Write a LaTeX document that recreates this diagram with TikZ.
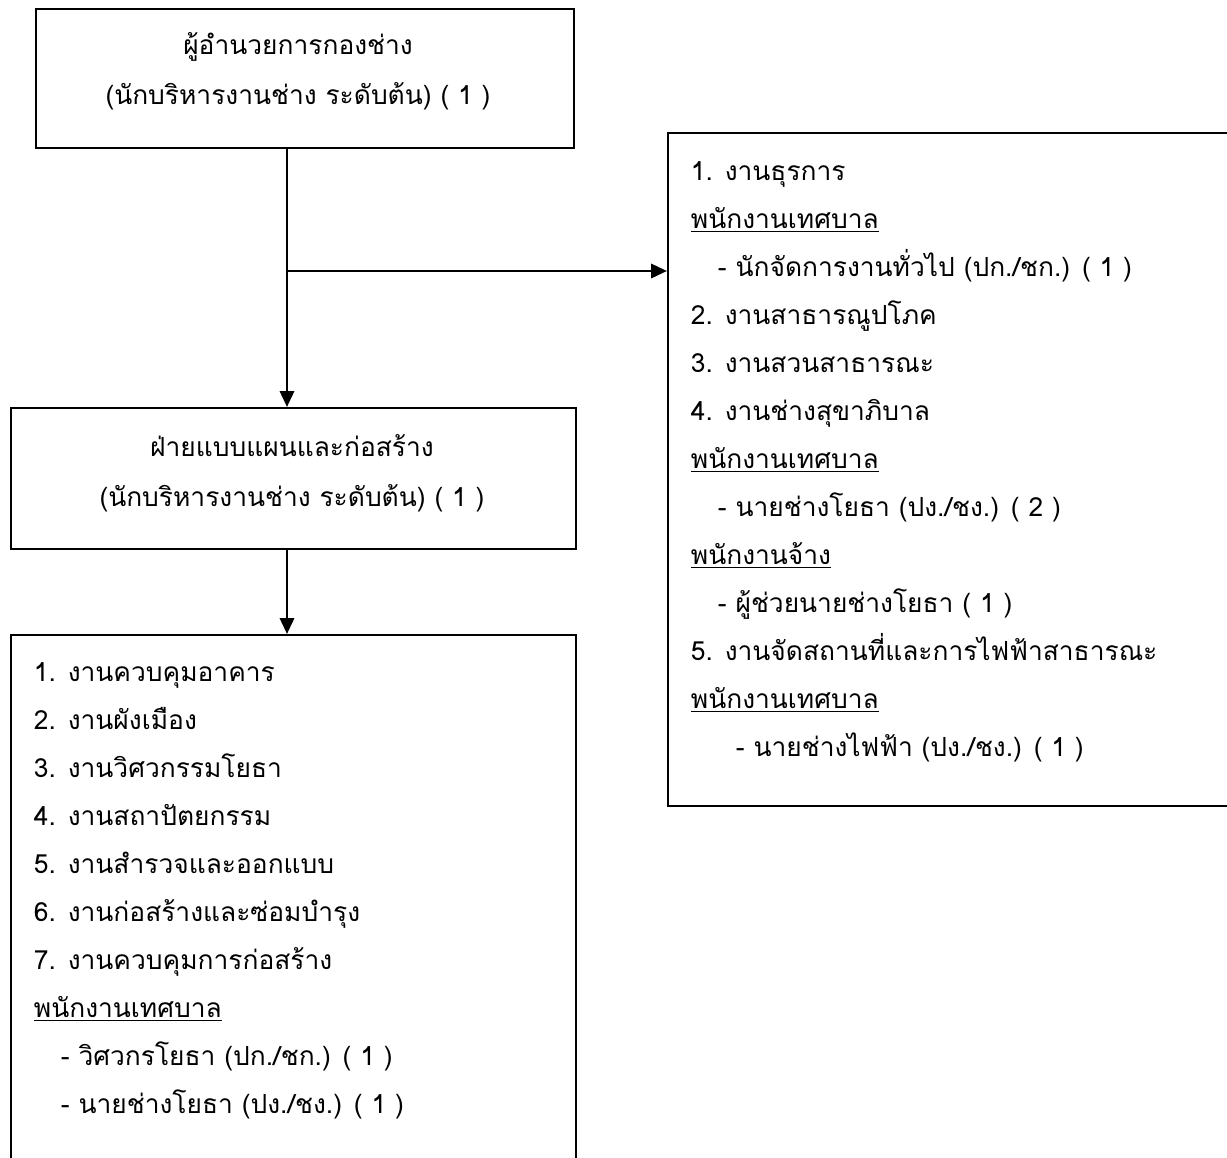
\documentclass[tikz,border=0pt]{standalone}
\usepackage{fontspec}
\setmainfont[Script=Thai]{Loma}
\usetikzlibrary{arrows.meta, positioning}
\newcommand{\undl}[1]{\underline{#1}}
\newcommand{\thaitext}{\fontsize{15pt}{27.3pt}\selectfont}
\newcommand{\thaihead}{\fontsize{15pt}{28.4pt}\selectfont}
\tikzset{
  every picture/.style={line width=1.1pt},
  box/.style={draw, line width=1.1pt, anchor=north west, inner sep=0pt},
  arrow/.style={-{Triangle[length=9pt,width=8pt]}, line width=1.6pt},
  head/.style={align=center, inner sep=0pt, font=\thaihead},
  list/.style={anchor=north west, align=left, inner sep=0pt, font=\thaitext},
}

\begin{document}
\begin{tikzpicture}[x=0.02cm, y=-0.02cm]
  \useasboundingbox (0,0) rectangle (1227,1157);
  \clip (0,0) rectangle (1227,1157);
  % boxes
  \node[box, minimum width=10.76cm, minimum height=2.78cm] (dir) at (35,8) {};
  \node[box, minimum width=11.3cm, minimum height=2.82cm] (plan) at (10,407) {};
  \node[box, minimum width=11.3cm, minimum height=12cm] (works) at (10,634) {};
  \node[box, minimum width=12cm, minimum height=13.46cm] (gen) at (667,132) {};
  % texts
  \node[head] (dirtxt) at (298,71) {ผู้อำนวยการกองช่าง\\(นักบริหารงานช่าง ระดับต้น) ( 1 )};
  \node[head] (plantxt) at (292,473) {ฝ่ายแบบแผนและก่อสร้าง\\(นักบริหารงานช่าง ระดับต้น) ( 1 )};
  \node[list] (gentxt) at (690,161) {1. งานธุรการ\\
    \undl{พนักงานเทศบาล}\\
    \hspace*{0.54cm}- นักจัดการงานทั่วไป (ปก./ชก.) ( 1 )\\
    2. งานสาธารณูปโภค\\
    3. งานสวนสาธารณะ\\
    4. งานช่างสุขาภิบาล\\
    \undl{พนักงานเทศบาล}\\
    \hspace*{0.54cm}- นายช่างโยธา (ปง./ชง.) ( 2 )\\
    \undl{พนักงานจ้าง}\\
    \hspace*{0.54cm}- ผู้ช่วยนายช่างโยธา ( 1 )\\
    5. งานจัดสถานที่และการไฟฟ้าสาธารณะ\\
    \undl{พนักงานเทศบาล}\\
    \hspace*{0.9cm}- นายช่างไฟฟ้า (ปง./ชง.) ( 1 )};
  \node[list] (workstxt) at (33,662) {1. งานควบคุมอาคาร\\
    2. งานผังเมือง\\
    3. งานวิศวกรรมโยธา\\
    4. งานสถาปัตยกรรม\\
    5. งานสำรวจและออกแบบ\\
    6. งานก่อสร้างและซ่อมบำรุง\\
    7. งานควบคุมการก่อสร้าง\\
    \undl{พนักงานเทศบาล}\\
    \hspace*{0.54cm}- วิศวกรโยธา (ปก./ชก.) ( 1 )\\
    \hspace*{0.54cm}- นายช่างโยธา (ปง./ชง.) ( 1 )};
  % connectors
  \coordinate (spine) at (287,271);
  \draw[arrow] (dir.south -| spine) -- (plan.north -| spine);
  \draw[arrow] (spine) -- (spine -| gen.west);
  \draw[arrow] (plan.south -| spine) -- (works.north -| spine);
\end{tikzpicture}
\end{document}
